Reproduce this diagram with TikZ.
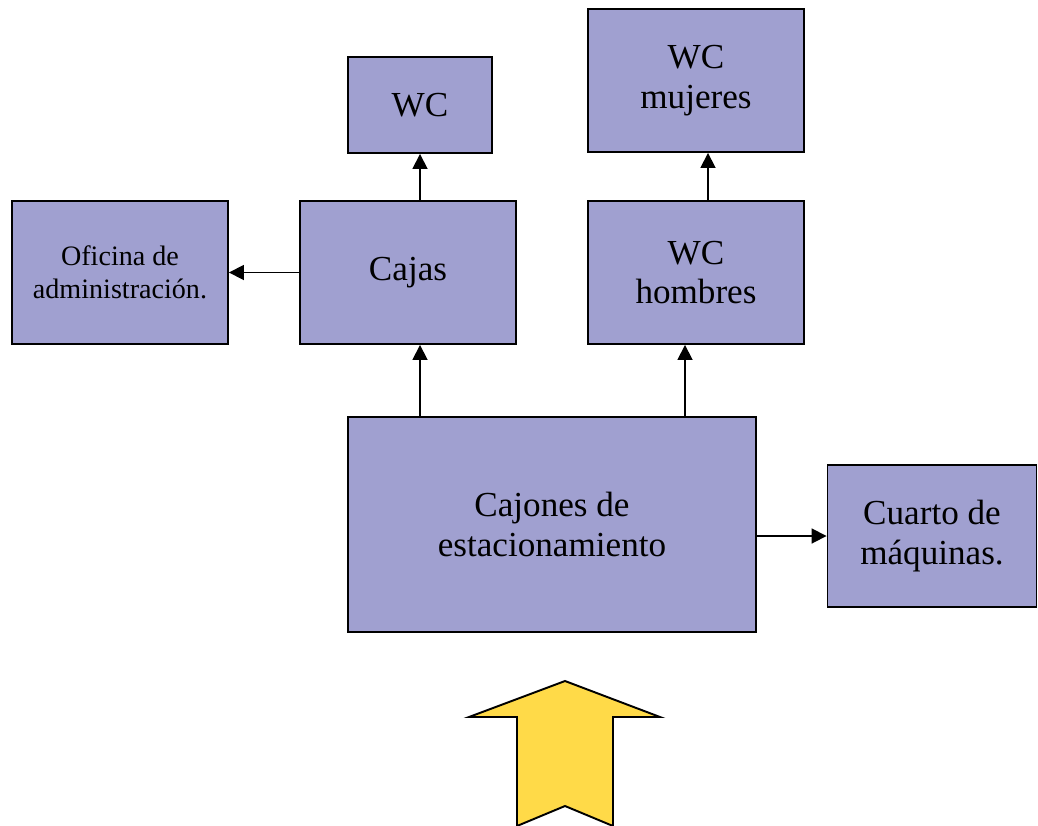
\documentclass[tikz,border=0pt]{standalone}
\usepackage{fontspec}
\setmainfont{Liberation Serif}
\usetikzlibrary{arrows.meta,positioning,calc}
\definecolor{roomfill}{RGB}{160,160,208}
\definecolor{entryfill}{RGB}{255,218,72}

\tikzset{
  room/.style={draw,line width=1.1pt,fill=roomfill,align=center,inner sep=0pt,
    font=\fontsize{20}{22.5}\selectfont},
  link/.style={line width=1pt,-{Triangle[length=0.3cm,width=0.3cm]}}
}

\begin{document}
\begin{tikzpicture}[x=0.02cm,y=-0.02cm]
  \useasboundingbox (0,0) rectangle (1038,825);
  % rooms
  \node[room,minimum width=2.88cm,minimum height=1.92cm] (wc) at (420,105) {WC};
  \node[room,minimum width=4.32cm,minimum height=2.86cm] (wcm) at (696,80.5) {WC\\mujeres};
  \node[room,minimum width=4.32cm,minimum height=2.86cm,font=\fontsize{16}{18.5}\selectfont] (ofi) at (120,272.5) {Oficina de\\administración.};
  \node[room,minimum width=4.32cm,minimum height=2.86cm] (cajas) at (408,272.5) {Cajas};
  \node[room,minimum width=4.32cm,minimum height=2.86cm] (wch) at (696,272.5) {WC\\hombres};
  \node[room,minimum width=8.16cm,minimum height=4.3cm] (cajones) at (552,524.5) {Cajones de\\estacionamiento};
  \node[room,minimum width=4.18cm,minimum height=2.84cm] (cuarto) at (932,536) {Cuarto de\\máquinas.};
  % links
  \draw[link] (cajas.north -| wc.south) -- (wc.south);
  \draw[link] ([xshift=0.24cm]wch.north) -- ([xshift=0.24cm]wcm.south);
  \draw[link] (cajas.west) -- (ofi.east);
  \draw[link] (cajones.north -| wc.south) -- (cajas.south -| wc.south);
  \draw[link] ([xshift=-0.22cm]cajones.north -| wch.south) -- ([xshift=-0.22cm]wch.south);
  \draw[link] (cajones.east |- cuarto.west) -- (cuarto.west);
  % entrance
  \draw[line width=1.1pt,fill=entryfill,line join=miter]
    (565,681) -- (660,717) -- (613,717) -- (613,826) -- (565,806)
    -- (517,826) -- (517,717) -- (469,717) -- cycle;
\end{tikzpicture}
\end{document}
